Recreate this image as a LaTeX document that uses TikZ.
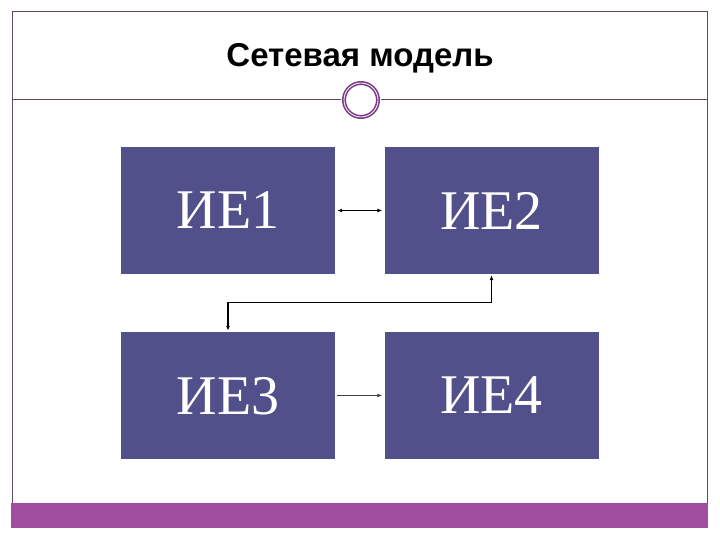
\documentclass[tikz,border=0pt]{standalone}
\usepackage{fontspec}
\setmainfont{Liberation Serif}
\newfontfamily\titlefont{Liberation Sans}
\usetikzlibrary{arrows.meta}
\definecolor{boxblue}{HTML}{52508A}
\definecolor{framec}{HTML}{5E4A66}
\definecolor{barc}{HTML}{A04C9F}
\definecolor{ringc}{HTML}{7A3A88}
\tikzset{
  ebox/.style={fill=boxblue, draw=none, minimum width=214pt, minimum height=127pt, inner sep=0pt,
    text=white, font=\fontsize{56}{60}\selectfont, text depth=-6pt},
  frameline/.style={draw=framec, line width=1pt},
  conn/.style={draw=black, line width=1.3pt},
  tip/.style={-{Latex[length=5pt,width=4pt]}},
}
\begin{document}
\begin{tikzpicture}[x=1pt,y=-1pt]
\useasboundingbox (0,0) rectangle (720,540);
% frame
\draw[frameline] (12,503) -- (12,12) -- (707,12) -- (707,503);
\fill[barc] (11,503) rectangle (708,528);
% title rule
\draw[frameline] (12,100) -- (341,100);
\draw[frameline] (381,100) -- (707,100);
\node[circle, draw=ringc, line width=4pt, fill=white, minimum size=34pt, inner sep=0pt] (ring) at (361,100) {};
\node[circle, draw=white, line width=0.8pt, minimum size=34pt, inner sep=0pt] at (361,100) {};
\node[font=\titlefont\bfseries\fontsize{33}{36}\selectfont, inner sep=0pt] (title) at (360,58) {Сетевая модель};
% boxes
\node[ebox] (b1) at (228,210.5) {ИЕ1};
\node[ebox] (b2) at (491.5,210.5) {ИЕ2};
\node[ebox] (b3) at (228,395.5) {ИЕ3};
\node[ebox] (b4) at (491.5,395.5) {ИЕ4};
% connectors
\draw[conn, {Latex[length=5pt,width=4pt]}-{Latex[length=5pt,width=4pt]}, shorten <=2pt, shorten >=2pt] (b1.east) -- (b2.west);
\draw[conn, {Latex[length=5pt,width=4pt]}-{Latex[length=5pt,width=4pt]}, shorten <=1pt, shorten >=1pt] (b2.south) -- ++(0,28) -| (b3.north);
\draw[conn, draw=black!75, tip, shorten <=2pt, shorten >=2pt] (b3.east) -- (b4.west);
\end{tikzpicture}
\end{document}
